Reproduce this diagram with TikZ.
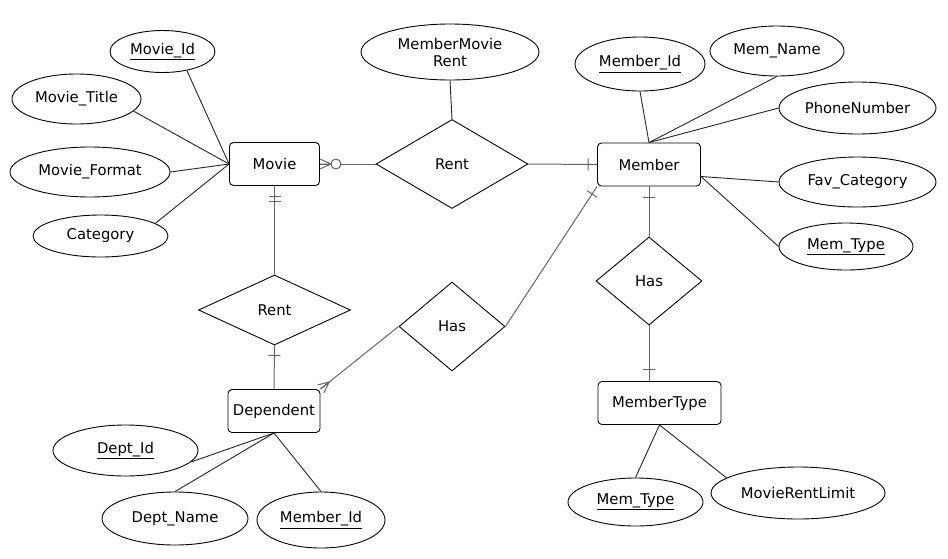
\documentclass[tikz,border=0pt]{standalone}
\usepackage{fontspec}
\setmainfont{DejaVu Sans}
\usetikzlibrary{shapes.geometric,decorations.markings,calc}
\begin{document}
\begin{tikzpicture}[x=1pt,y=-1pt,
  font=\fontsize{14.8}{17}\selectfont,
  entity/.style={draw=black, rounded corners=4pt, line width=0.9pt, fill=white,
    inner sep=0pt, minimum height=43pt},
  attr/.style={ellipse, draw=black, line width=0.9pt, fill=white, inner sep=0pt},
  rel/.style={diamond, draw=black, line width=0.9pt, fill=white, inner sep=0pt},
  attrline/.style={draw=black!85, line width=0.9pt},
  relline/.style={draw=black!60, line width=1pt},
  relmark/.style={draw=black!60, line width=1pt},
  % single bar at a given distance along the connector
  bar/.style={postaction={decorate,decoration={markings,
    mark=at position #1 with {\draw[relmark] (0,-6) -- (0,6);}}}},
  % zero-or-many at the start of a connector
  zeromanystart/.style={postaction={decorate,decoration={markings,
    mark=at position 0.01pt with {\draw[relmark] (0,-5) -- (11,0) -- (0,5) (0,0) -- (11,0);
      \draw[relmark, fill=white] (16,0) circle (5);}}}},
  % many at the end of a connector
  manyend/.style={postaction={decorate,decoration={markings,
    mark=at position -0.3pt with {\draw[relmark] (0,-5) -- (-11,0) -- (0,5) (0,0) -- (-11,0);}}}},
]
\useasboundingbox[fill=white] (0,0) rectangle (948,558);

% entities
\node[entity, minimum width=90pt]  (movie)  at (274.5,164) {Movie};
\node[entity, minimum width=103pt] (member) at (649,164.5) {Member};
\node[entity, minimum width=92pt]  (dep)    at (274,411) {Dependent};
\node[entity, minimum width=123pt] (mtype)  at (659.5,403) {MemberType};

% relationships
\node[rel, minimum width=152pt, minimum height=89pt] (rentA) at (452,164) {Rent};
\node[rel, minimum width=152pt, minimum height=70pt] (rentB) at (274.5,310) {Rent};
\node[rel, minimum width=106pt, minimum height=89pt] (hasA)  at (452,326.5) {Has};
\node[rel, minimum width=106pt, minimum height=88pt] (hasB)  at (649,281) {Has};

% attributes
\node[attr, minimum width=105pt, minimum height=42pt] (movieid)    at (162.5,51.5) {\underline{Movie\_Id}};
\node[attr, minimum width=129pt, minimum height=50pt] (movietitle) at (76.5,99) {Movie\_Title};
\node[attr, minimum width=160pt, minimum height=50pt] (movieformat) at (90,172) {Movie\_Format};
\node[attr, minimum width=135pt, minimum height=42pt] (category)   at (100.5,236) {Category};
\node[attr, minimum width=178pt, minimum height=56pt, align=center] (mmrent) at (450,52)
  {MemberMovie\\Rent};
\node[attr, minimum width=130pt, minimum height=54pt] (memberid)  at (640,64) {\underline{Member\_Id}};
\node[attr, minimum width=134pt, minimum height=50pt] (memname)   at (777,51) {Mem\_Name};
\node[attr, minimum width=157pt, minimum height=52pt] (phone)     at (857.5,108) {PhoneNumber};
\node[attr, minimum width=157pt, minimum height=50pt] (favcat)    at (857.5,182) {Fav\_Category};
\node[attr, minimum width=134pt, minimum height=47pt] (memtypeA)  at (846,246.5) {\underline{Mem\_Type}};
\node[attr, minimum width=145pt, minimum height=51pt] (deptid)    at (125.5,450.5) {\underline{Dept\_Id}};
\node[attr, minimum width=146pt, minimum height=53pt] (deptname)  at (175,518.5) {Dept\_Name};
\node[attr, minimum width=128pt, minimum height=56pt] (depmemid)  at (321,520) {\underline{Member\_Id}};
\node[attr, minimum width=135pt, minimum height=48pt] (memtypeB)  at (635.5,502) {\underline{Mem\_Type}};
\node[attr, minimum width=174pt, minimum height=52pt] (rentlimit) at (798,493) {MovieRentLimit};

% attribute links
\draw[attrline] (movieid.-38) -- (movie.west);
\draw[attrline] (movietitle.-12) -- (movie.west);
\draw[attrline] (movieformat.east) -- (movie.west);
\draw[attrline] (category.13) -- (movie.west);
\draw[attrline] (mmrent.south) -- (rentA.north);
\draw[attrline] (memberid.south) -- (member.north);
\draw[attrline] (memname.south) -- (member.north);
\draw[attrline] (phone.west) -- (member.north);
\draw[attrline] (favcat.west) -- (member.-13);
\draw[attrline] (memtypeA.west) -- (member.-13);
\draw[attrline] (deptid.-10) -- (dep.south);
\draw[attrline] (deptname.north) -- (dep.south);
\draw[attrline] (depmemid.north) -- (dep.south);
\draw[attrline] (memtypeB.north) -- (mtype.south);
\draw[attrline] (rentlimit.168) -- (mtype.south);

% relationship links
\draw[relline, zeromanystart] (movie.east) -- (rentA.west);
\draw[relline, bar=-9pt] (rentA.east) -- (member.west);
\draw[relline, bar=11pt, bar=16pt] (movie.south) -- (rentB.north);
\draw[relline, bar=10pt] (rentB.south) -- (dep.north);
\draw[relline, manyend] (hasA.west) -- (dep.north east);
\draw[relline, bar=-9pt] (hasA.east) -- (member.south west);
\draw[relline, bar=11pt] (member.south) -- (hasB.north);
\draw[relline, bar=-12pt] (hasB.south) -- (hasB.south |- mtype.north);
\end{tikzpicture}
\end{document}
